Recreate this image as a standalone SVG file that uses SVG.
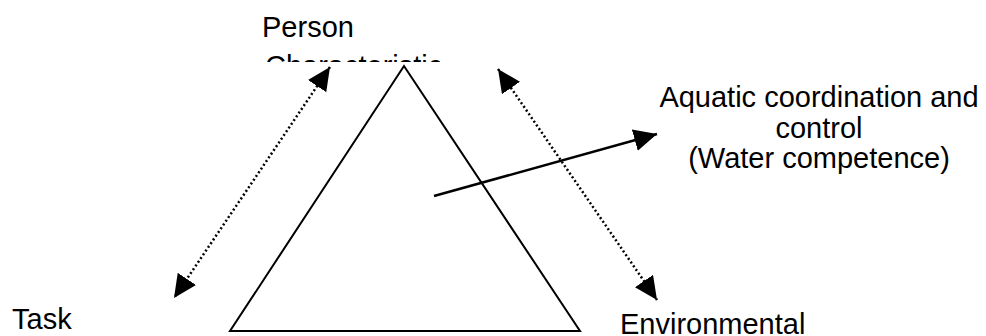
<svg xmlns="http://www.w3.org/2000/svg" width="986" height="336" viewBox="0 0 986 336">
<style>
.t{font-family:"Liberation Sans",Arial,sans-serif;font-size:29px;fill:#000}
.dot{stroke:#000;stroke-width:2.5;stroke-dasharray:2 2.5;fill:none}
.sol{stroke:#000;stroke-width:2.5;fill:none}
</style>
<defs>
<marker id="ah" markerUnits="userSpaceOnUse" markerWidth="24" markerHeight="22" viewBox="0 0 24 22" refX="23" refY="11" orient="auto-start-reverse">
<path d="M0,0 L23,11 L0,22 z" fill="#000"/>
</marker>
<clipPath id="clipC"><rect x="250" y="0" width="190" height="62"/></clipPath>
</defs>
<rect width="986" height="336" fill="#fff"/>
<g id="triangle">
<polygon points="404,66 230,331 580,331" fill="none" stroke="#000" stroke-width="2"/>
</g>
<g id="person">
<text class="t" x="262" y="37">Person</text>
<text class="t" x="265" y="76" clip-path="url(#clipC)">Characteristics</text>
</g>
<g id="task"><text class="t" x="12" y="329">Task</text></g>
<g id="environmental"><text class="t" x="620" y="334">Environmental</text></g>
<g id="aquatic">
<text class="t" x="819" y="107" text-anchor="middle">Aquatic coordination and</text>
<text class="t" x="819" y="137.5" text-anchor="middle">control</text>
<text class="t" x="819" y="168" text-anchor="middle">(Water competence)</text>
</g>
<g id="connectors">
<line class="dot" x1="330" y1="67" x2="174" y2="298" marker-start="url(#ah)" marker-end="url(#ah)"/>
<line class="dot" x1="498" y1="69" x2="657" y2="300" marker-start="url(#ah)" marker-end="url(#ah)"/>
<line class="sol" x1="434" y1="196" x2="657" y2="134" marker-end="url(#ah)"/>
</g>
</svg>
